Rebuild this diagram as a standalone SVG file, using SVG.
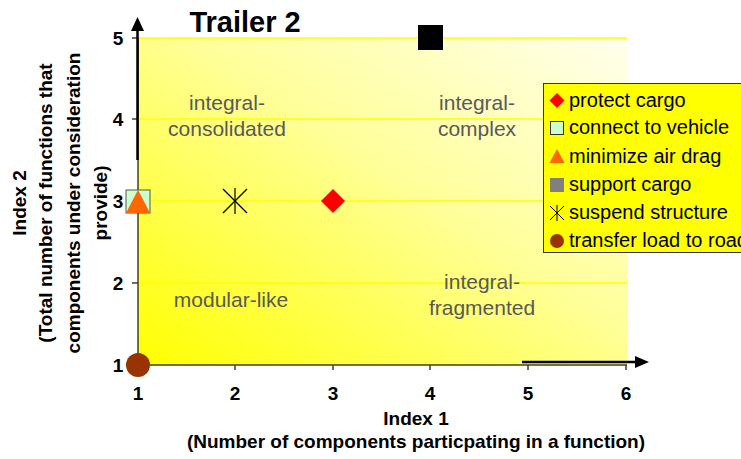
<svg xmlns="http://www.w3.org/2000/svg" width="741" height="459" viewBox="0 0 741 459">
<defs>
<linearGradient id="bg" x1="0" y1="1" x2="1" y2="0">
<stop offset="0" stop-color="#FFFF00"/>
<stop offset="0.55" stop-color="#FFFF99"/>
<stop offset="1" stop-color="#FFFFEE"/>
</linearGradient>
</defs>
<style>
text{font-family:"Liberation Sans",Arial,sans-serif}
.tick{font-size:19px;font-weight:bold;fill:#000}
.axt{font-size:19px;font-weight:bold;fill:#000}
.reg{font-size:21px;fill:#595959}
.leg{font-size:20px;fill:#000}
.grid{stroke:#FFFF00;stroke-width:1.5}
.ax{stroke:#404020;stroke-width:1.5}
</style>
<rect width="741" height="459" fill="#fff"/>
<g id="plot">
<rect x="138" y="38" width="489" height="327" fill="url(#bg)"/>
<line class="grid" x1="138" y1="38" x2="627" y2="38"/>
<line class="grid" x1="138" y1="119" x2="627" y2="119"/>
<line class="grid" x1="138" y1="201" x2="627" y2="201"/>
<line class="grid" x1="138" y1="283" x2="627" y2="283"/>
<line class="ax" x1="138" y1="38" x2="138" y2="365"/>
<line class="ax" x1="138" y1="365" x2="627" y2="365"/>
<g class="ax">
<line x1="132" y1="38" x2="138" y2="38"/><line x1="132" y1="119" x2="138" y2="119"/><line x1="132" y1="201" x2="138" y2="201"/><line x1="132" y1="283" x2="138" y2="283"/><line x1="132" y1="365" x2="138" y2="365"/>
<line x1="235" y1="365" x2="235" y2="370"/><line x1="333" y1="365" x2="333" y2="370"/><line x1="430" y1="365" x2="430" y2="370"/><line x1="528" y1="365" x2="528" y2="370"/><line x1="626" y1="365" x2="626" y2="370"/>
</g>
</g>
<g id="connectors">
<line x1="137.5" y1="160" x2="137.5" y2="28" stroke="#000" stroke-width="2.5"/>
<polygon points="137.5,17 131,31 144,31" fill="#000"/>
<line x1="522" y1="362" x2="638" y2="362" stroke="#000" stroke-width="2.5"/>
<polygon points="649,362 635,356 635,368" fill="#000"/>
</g>
<g id="ticks">
<text class="tick" x="118" y="45" text-anchor="middle">5</text>
<text class="tick" x="118" y="126" text-anchor="middle">4</text>
<text class="tick" x="118" y="208" text-anchor="middle">3</text>
<text class="tick" x="118" y="290" text-anchor="middle">2</text>
<text class="tick" x="118" y="372" text-anchor="middle">1</text>
<text class="tick" x="138" y="400" text-anchor="middle">1</text>
<text class="tick" x="235" y="400" text-anchor="middle">2</text>
<text class="tick" x="333" y="400" text-anchor="middle">3</text>
<text class="tick" x="430" y="400" text-anchor="middle">4</text>
<text class="tick" x="528" y="400" text-anchor="middle">5</text>
<text class="tick" x="626" y="400" text-anchor="middle">6</text>
</g>
<g id="title"><text x="245" y="32" text-anchor="middle" font-size="29" font-weight="bold">Trailer 2</text></g>
<g id="xaxis-title">
<text class="axt" x="416" y="425" text-anchor="middle">Index 1</text>
<text class="axt" x="416" y="448" text-anchor="middle">(Number of components particpating in a function)</text>
</g>
<g id="yaxis-title" transform="translate(0,203) rotate(-90)">
<text class="axt" x="0" y="26" text-anchor="middle">Index 2</text>
<text class="axt" x="0" y="52" text-anchor="middle">(Total number of functions that</text>
<text class="axt" x="0" y="80" text-anchor="middle">components under consideration</text>
<text class="axt" x="0" y="107" text-anchor="middle">provide)</text>
</g>
<g id="regions">
<text class="reg" x="227" y="110" text-anchor="middle">integral-</text>
<text class="reg" x="227" y="136" text-anchor="middle">consolidated</text>
<text class="reg" x="477" y="110" text-anchor="middle">integral-</text>
<text class="reg" x="477" y="136" text-anchor="middle">complex</text>
<text class="reg" x="231" y="307" text-anchor="middle">modular-like</text>
<text class="reg" x="482" y="289" text-anchor="middle">integral-</text>
<text class="reg" x="482" y="315" text-anchor="middle">fragmented</text>
</g>
<g id="points">
<rect x="418" y="25" width="25" height="25" fill="#000"/>
<rect x="126" y="190" width="24" height="23" fill="#CCFFCC" stroke="#555" stroke-width="1"/>
<polygon points="138,190 126,213 150,213" fill="#FF6600"/>
<g stroke="#000" stroke-width="1.2"><line x1="223" y1="189" x2="247" y2="213"/><line x1="223" y1="213" x2="247" y2="189"/><line x1="235" y1="188" x2="235" y2="214"/></g>
<polygon points="333,189 345,201 333,213 321,201" fill="#FF0000"/>
<circle cx="138" cy="365" r="12" fill="#993300"/>
</g>
<g id="legend">
<rect x="543.5" y="83.5" width="205" height="169" fill="#FFFF00" stroke="#333" stroke-width="1"/>
<polygon points="557,93 564.5,100.5 557,108 549.5,100.5" fill="#FF0000"/>
<text class="leg" x="569" y="107">protect cargo</text>
<rect x="550.5" y="121.5" width="13" height="13" fill="#CCFFCC" stroke="#333" stroke-width="1"/>
<text class="leg" x="569" y="134">connect to vehicle</text>
<polygon points="557,149 549.5,163 564.5,163" fill="#FF6600"/>
<text class="leg" x="569" y="163">minimize air drag</text>
<rect x="550" y="178" width="14" height="14" fill="#808080"/>
<text class="leg" x="569" y="191">support cargo</text>
<g stroke="#000" stroke-width="1"><line x1="550" y1="206" x2="564" y2="220"/><line x1="550" y1="220" x2="564" y2="206"/><line x1="557" y1="205" x2="557" y2="221"/></g>
<text class="leg" x="569" y="219">suspend structure</text>
<circle cx="557" cy="241" r="7" fill="#993300"/>
<text class="leg" x="569" y="247">transfer load to road</text>
</g>
</svg>
